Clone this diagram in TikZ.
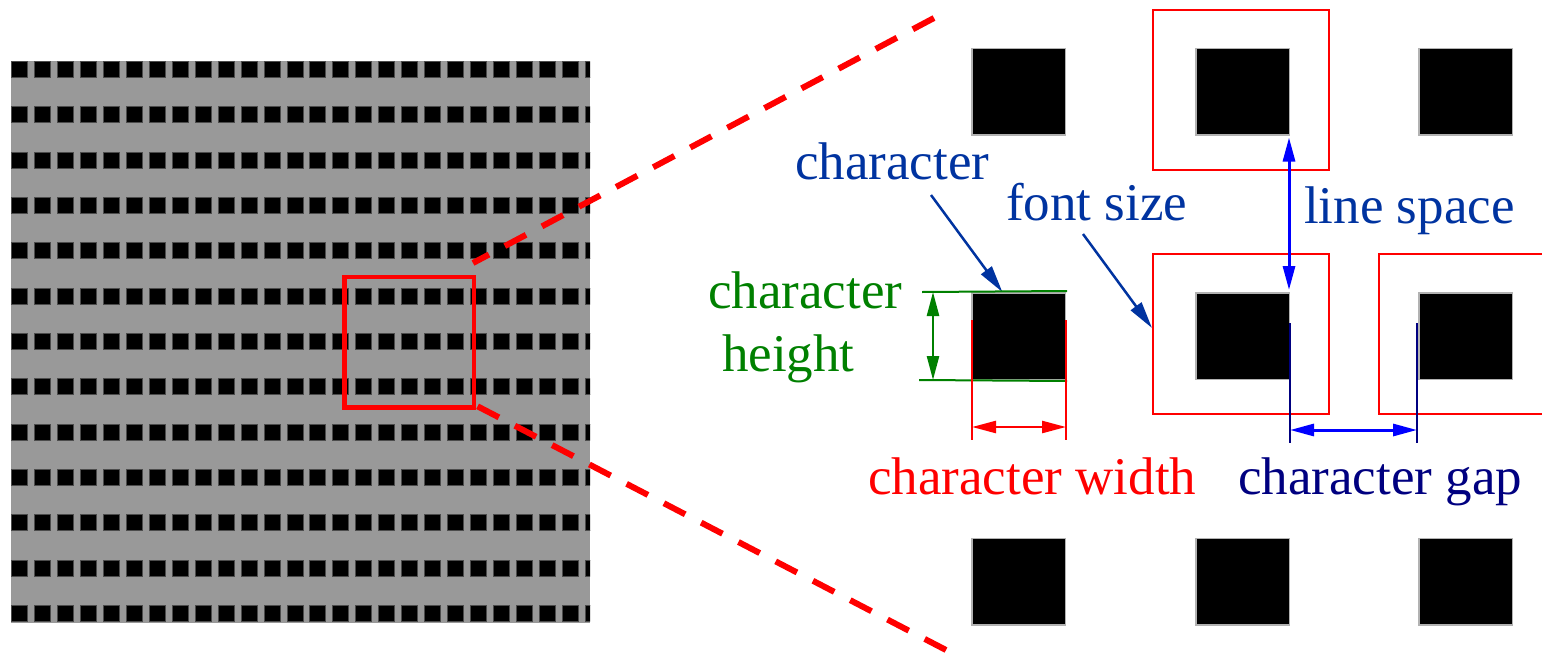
\documentclass[tikz,border=0pt]{standalone}
\usepackage{fontspec}
\setmainfont{Liberation Serif}
\usetikzlibrary{arrows.meta,calc}
\definecolor{lblue}{RGB}{0,51,160}
\definecolor{navy}{RGB}{0,0,128}
\definecolor{pureblue}{RGB}{0,0,255}
\definecolor{dgreen}{RGB}{0,128,0}
\definecolor{gridgray}{RGB}{153,153,153}

\begin{document}
\begin{tikzpicture}[x=1pt,y=-1pt,
  bigsq/.style={rectangle, fill=black, draw=black!30, line width=1.5pt, inner sep=0pt,
                minimum width=93.5pt, minimum height=86.5pt},
  fsbox/.style={rectangle, draw=red, line width=2pt, inner sep=0pt,
                minimum width=176pt, minimum height=160pt},
  txt/.style={font=\fontsize{53}{60}\selectfont, inner sep=0pt, anchor=base west},
  pointer/.style={lblue, line width=2.5pt, -{Triangle[length=27pt,width=13pt]}},
  dimarrow/.style={line width=3pt, {Triangle[length=24pt,width=12pt]}-{Triangle[length=24pt,width=12pt]}},
  extline/.style={line width=2pt},
  zoomline/.style={red, line width=6pt, dash pattern=on 24pt off 18pt}]

\useasboundingbox (0,0) rectangle (1542,653);
\clip (0,0) rectangle (1542,653);

% ---- text page: grey field with rows of black character cells ----
\fill[gridgray] (11,61) rectangle (590,623);
\begin{scope}
  \clip (11,61) rectangle (590,623);
  \foreach \j in {0,...,12}
    \foreach \i in {0,...,25}
      \filldraw[fill=black, draw=black!70, line width=1pt]
        ({11.5+22.96*\i},{61.5+45.33*\j}) rectangle +(16,16);
\end{scope}

% magnified region
\node[draw=red, line width=4.5pt, inner sep=0pt, minimum width=129.5pt, minimum height=130.5pt]
  (zoom) at (409.25,342.25) {};
\coordinate (zu) at (473,263);
\coordinate (zl) at (477,406);
\coordinate (ue) at (934,18);
\coordinate (le) at (946,650);
\draw[zoomline] (ue) -- (zu);
\draw[zoomline] (le) -- (zl);

% ---- magnified view: font-size boxes ----
\node[fsbox] (fs1) at (1241,89.5) {};
\node[fsbox] (fs2) at (1241,334) {};
\node[fsbox] (fs3) at (1467,334) {};

% character cells
\node[bigsq] (t1) at (1018.5,91.5) {};
\node[bigsq] (t2) at (1242.5,91.5) {};
\node[bigsq] (t3) at (1465.5,91.5) {};
\node[bigsq] (m1) at (1018.5,336) {};
\node[bigsq] (m2) at (1242.5,336) {};
\node[bigsq] (m3) at (1465.5,336) {};
\node[bigsq] (b1) at (1018.5,581.5) {};
\node[bigsq] (b2) at (1242.5,581.5) {};
\node[bigsq] (b3) at (1465.5,581.5) {};

% ---- labels ----
\node[txt, text=lblue] (lchar) at (795,179) {character};
\node[txt, text=lblue] (lfont) at (1006,220) {font size};
\node[txt, text=lblue] (lline) at (1304,223) {line space};
\node[txt, text=dgreen] (lh1) at (708,308) {character};
\node[txt, text=dgreen] (lh2) at (722,371) {height};
\node[txt, text=red] (lwidth) at (868,494) {character width};
\node[txt, text=navy] (lgap) at (1238,494) {character gap};

% pointers
\coordinate (pc) at (931,195);
\coordinate (pf) at (1083,234);
\draw[pointer] (pc) -- ($(m1.north west)!0.33!(m1.north east)$);
\draw[pointer] (pf) -- ([yshift=6pt]fs2.west);

% line space
\draw[dimarrow, pureblue] ([xshift=-1pt,yshift=-2pt]t2.south east) -- ([xshift=-1pt,yshift=2pt]m2.north east);

% character height
\coordinate (hA) at (922,292);
\coordinate (hB) at (919,380);
\draw[extline, dgreen] (hA) -- ([xshift=1pt,yshift=1pt]m1.north east);
\draw[extline, dgreen] (hB) -- ([xshift=1pt,yshift=-1pt]m1.south east);
\coordinate (hT) at (933,292);
\coordinate (hD) at (933,380);
\draw[dimarrow, dgreen, line width=2.5pt] (hT) -- (hD);

% character width
\coordinate (wA1) at (972,320);
\coordinate (wA2) at (972,440);
\coordinate (wB1) at (1066,320);
\coordinate (wB2) at (1066,440);
\draw[extline, red] (wA1) -- (wA2);
\draw[extline, red] (wB1) -- (wB2);
\coordinate (wL) at (972,427);
\coordinate (wR) at (1066,427);
\draw[dimarrow, red, line width=2.5pt] (wL) -- (wR);

% character gap
\coordinate (gA1) at (1290,323);
\coordinate (gA2) at (1290,443);
\coordinate (gB1) at (1417,323);
\coordinate (gB2) at (1417,443);
\draw[extline, navy] (gA1) -- (gA2);
\draw[extline, navy] (gB1) -- (gB2);
\coordinate (gL) at (1290,430);
\coordinate (gR) at (1417,430);
\draw[dimarrow, pureblue] (gL) -- (gR);
\end{tikzpicture}
\end{document}
